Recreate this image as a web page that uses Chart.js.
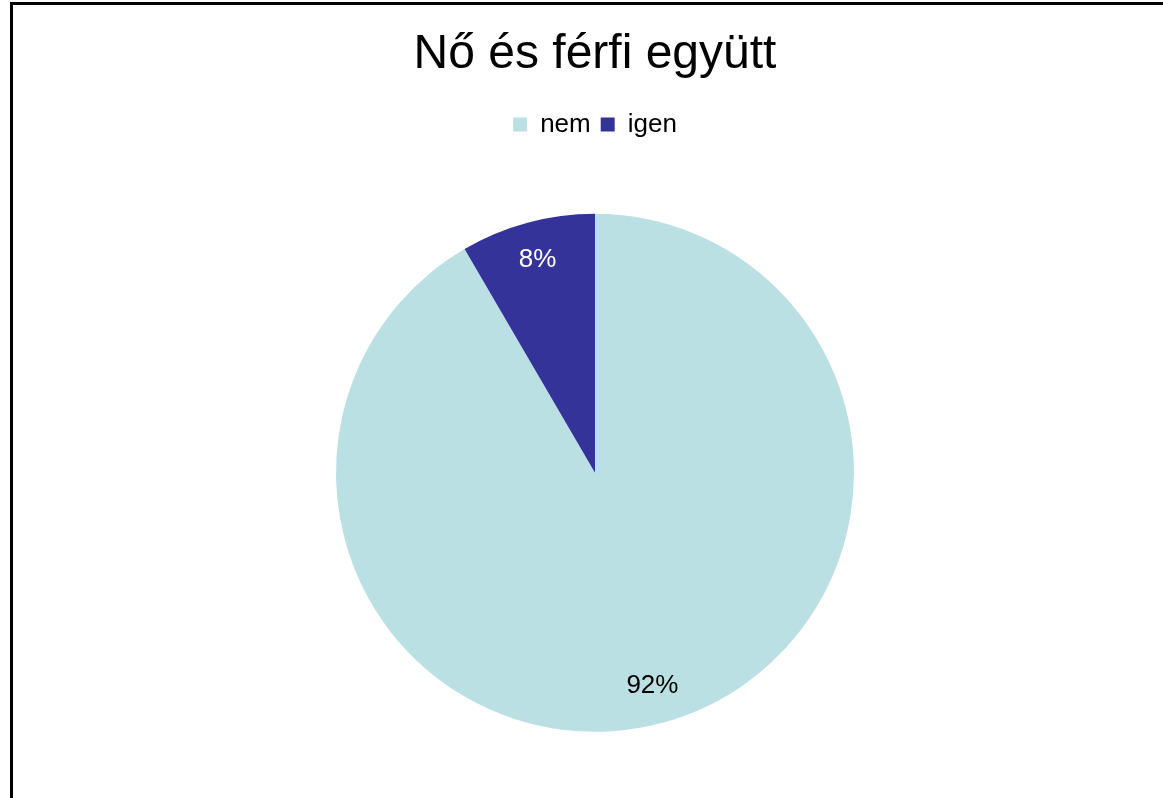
<!DOCTYPE html>
<html>
<head>
<meta charset="utf-8">
<script src="https://cdn.jsdelivr.net/npm/chart.js@4"></script>
<style>
  html, body { margin: 0; padding: 0; background: #fff; overflow: hidden; }
  .frame {
    position: absolute; left: 10px; top: 2px;
    width: 1300px; height: 1000px;
    border: 3px solid #000; box-sizing: border-box;
  }
  #chart { position: absolute; left: 0; top: 0; }
</style>
</head>
<body>
<div class="frame"></div>
<canvas id="chart" width="1163" height="950"></canvas>
<script>
const chartTitle = "Nő és férfi együtt";
const categories = ["nem", "igen"];
const shares = [91.6, 8.4];

const fontFamily = "'Liberation Sans', Arial, sans-serif";

// draws the percent inside each slice
const sliceLabels = {
  id: "sliceLabels",
  afterDatasetsDraw(chart) {
    const { ctx } = chart;
    const meta = chart.getDatasetMeta(0);
    const values = chart.data.datasets[0].data;
    const total = values.reduce((a, b) => a + b, 0);
    const colors = ["#000000", "#ffffff"];
    ctx.save();
    ctx.font = "26px " + fontFamily;
    ctx.textAlign = "center";
    ctx.textBaseline = "middle";
    meta.data.forEach((arc, i) => {
      const { x, y, startAngle, endAngle, outerRadius } = arc.getProps(
        ["x", "y", "startAngle", "endAngle", "outerRadius"], true);
      const mid = (startAngle + endAngle) / 2;
      const r = outerRadius * 0.85;
      ctx.fillStyle = colors[i];
      ctx.fillText(Math.round(values[i] / total * 100) + "%",
        x + Math.cos(mid) * r, y + Math.sin(mid) * r);
    });
    ctx.restore();
  },
};

const ctx = document.getElementById("chart").getContext("2d");

new Chart(ctx, {
  type: "pie",
  data: {
    labels: categories,
    datasets: [
      {
        data: shares,
        backgroundColor: ["#bbe0e3", "#333399"],
        borderWidth: 0,
        hoverOffset: 0,
      },
    ],
  },
  options: {
    responsive: false,
    animation: false,
    layout: {
      padding: { left: 336, right: 309, top: 0, bottom: 152 },
    },
    plugins: {
      title: {
        display: true,
        text: chartTitle,
        color: "#000",
        font: { family: fontFamily, size: 48, weight: "normal" },
        padding: { top: 26, bottom: 18 },
      },
      legend: {
        position: "top",
        labels: {
          color: "#000",
          boxWidth: 14,
          boxHeight: 14,
          padding: 10,
          font: { family: fontFamily, size: 26 },
        },
      },
      tooltip: { enabled: false },
    },
  },
  plugins: [sliceLabels],
});
</script>
</body>
</html>
